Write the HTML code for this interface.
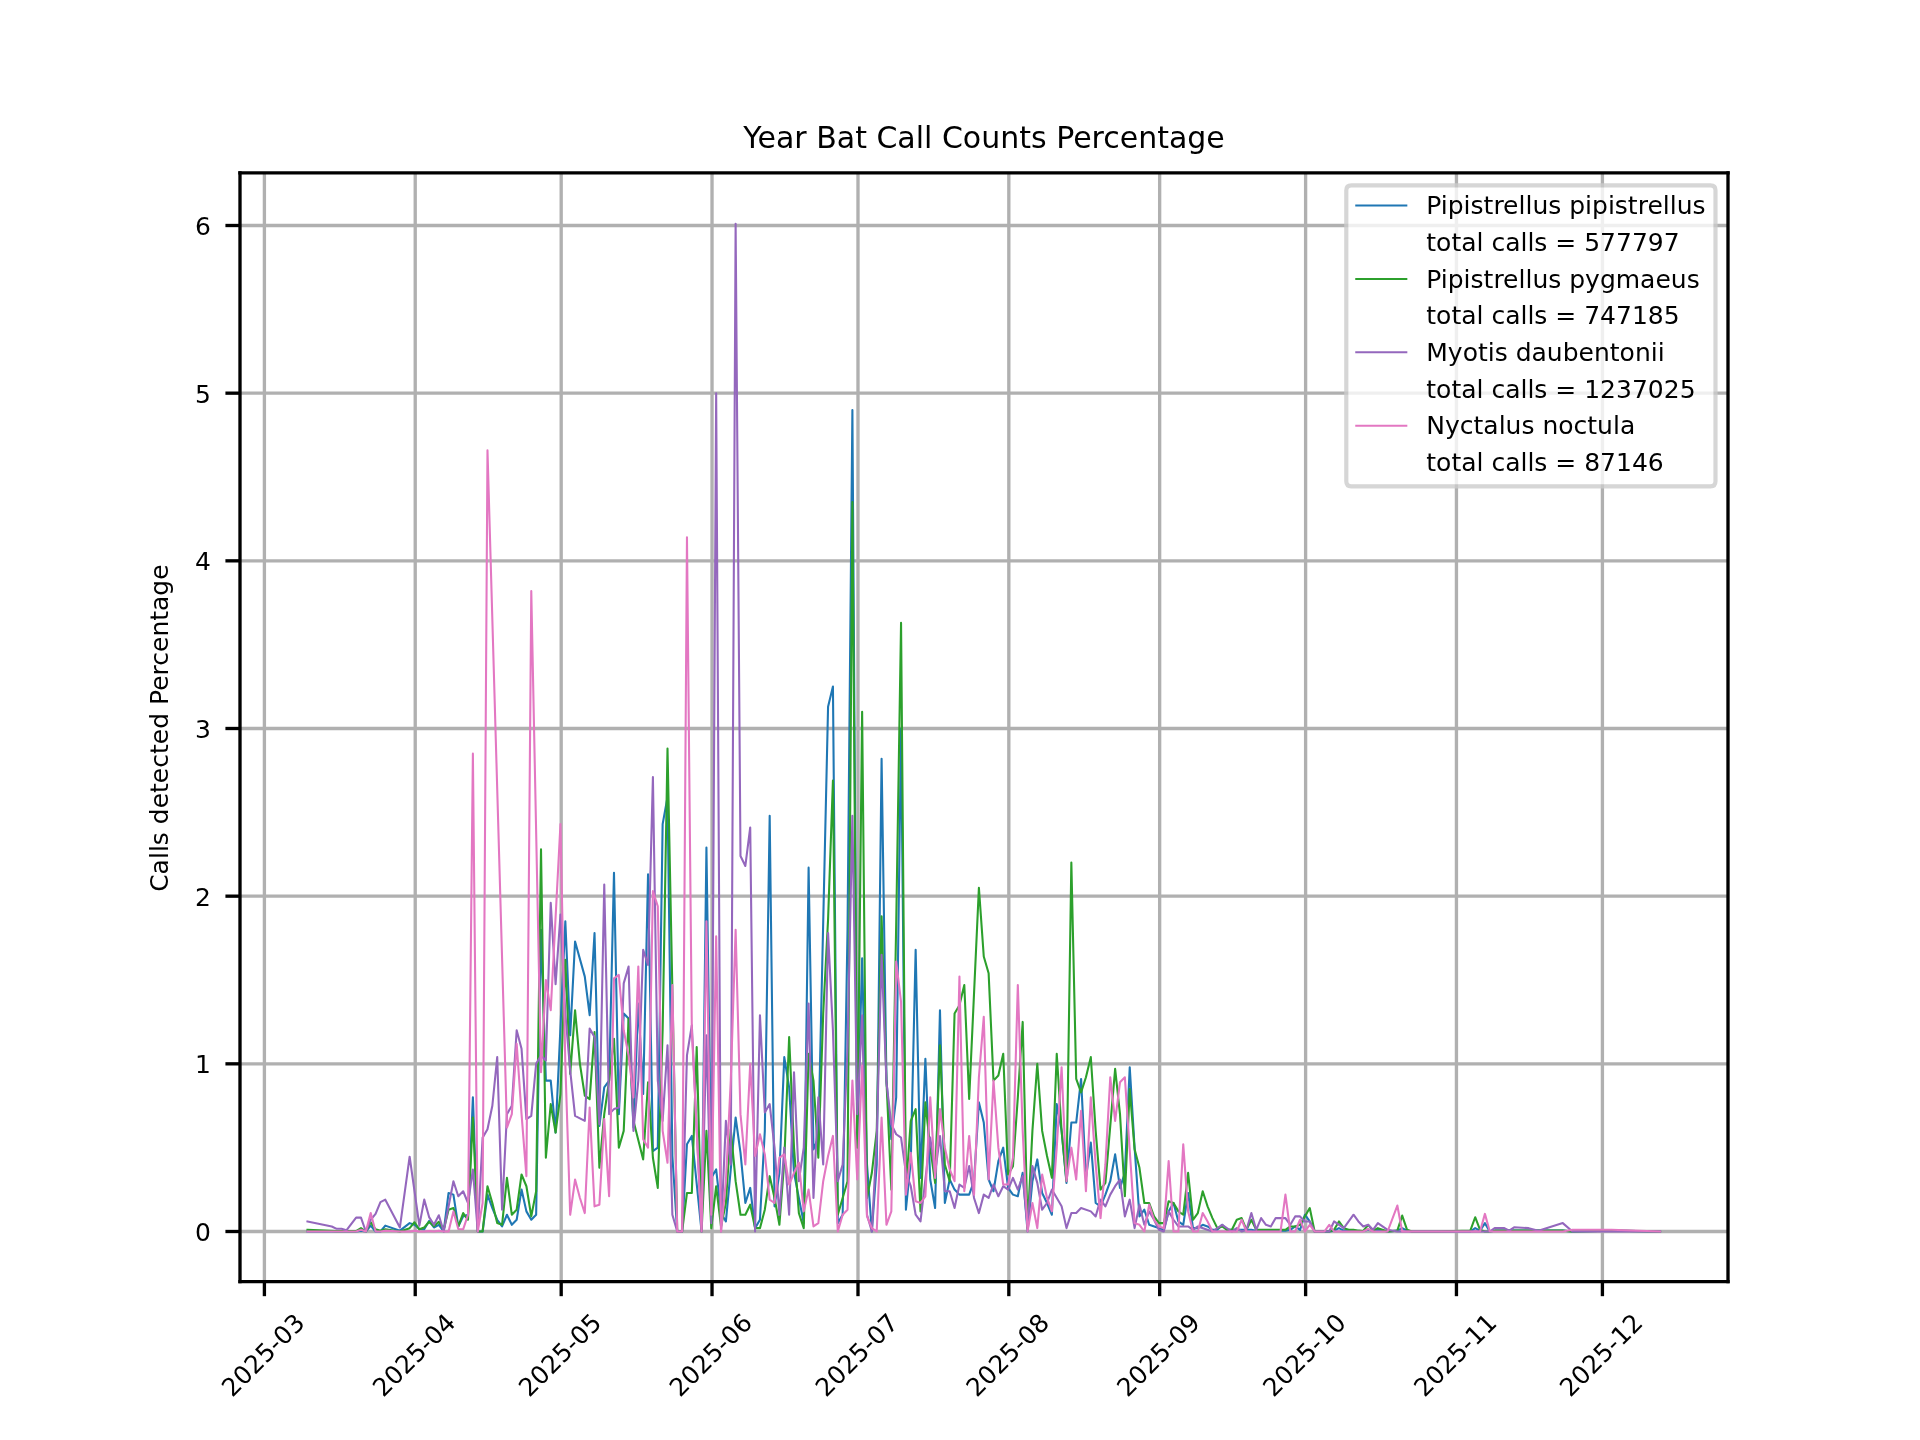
<!DOCTYPE html>
<html><head><meta charset="utf-8"><title>Year Bat Call Counts Percentage</title>
<style>html,body{margin:0;padding:0;background:#fff;width:1920px;height:1440px;overflow:hidden}svg{display:block;will-change:transform}</style>
</head><body>
<svg width="1920" height="1440" viewBox="0 0 460.8 345.6" version="1.1">
 
 <defs>
  <style type="text/css">*{stroke-linejoin: round; stroke-linecap: butt}</style>
 </defs>
 <g id="figure_1">
  <g id="patch_1">
   <path d="M 0 345.6 
L 460.8 345.6 
L 460.8 0 
L 0 0 
z
" style="fill: #ffffff"/>
  </g>
  <g id="axes_1">
   <g id="patch_2">
    <path d="M 57.6 307.584 
L 414.72 307.584 
L 414.72 41.472 
L 57.6 41.472 
z
" style="fill: #ffffff"/>
   </g>
   <g id="matplotlib.axis_1">
    <g id="xtick_1">
     <g id="line2d_1">
      <path d="M 63.456 307.584 
L 63.456 41.472 
" clip-path="url(#p48f33e3976)" style="fill: none; stroke: #b0b0b0; stroke-width: 0.8; stroke-linecap: square"/>
     </g>
     <g id="line2d_2">
      
      <g>
       <path d="M 0 0 L 0 3.5 " transform="translate(63.456 307.584)" style="stroke: #000000; stroke-width: 0.8"/>
      </g>
     </g>
     <g id="text_1">
      <text style="font-size: 6px; font-family: 'DejaVu Sans', 'Liberation Sans', sans-serif" transform="translate(55.763231 335.53469) rotate(-45)">2025-03</text>
     </g>
    </g>
    <g id="xtick_2">
     <g id="line2d_3">
      <path d="M 99.65532 307.584 
L 99.65532 41.472 
" clip-path="url(#p48f33e3976)" style="fill: none; stroke: #b0b0b0; stroke-width: 0.8; stroke-linecap: square"/>
     </g>
     <g id="line2d_4">
      <g>
       <path d="M 0 0 L 0 3.5 " transform="translate(99.65532 307.584)" style="stroke: #000000; stroke-width: 0.8"/>
      </g>
     </g>
     <g id="text_2">
      <text style="font-size: 6px; font-family: 'DejaVu Sans', 'Liberation Sans', sans-serif" transform="translate(91.962551 335.53469) rotate(-45)">2025-04</text>
     </g>
    </g>
    <g id="xtick_3">
     <g id="line2d_5">
      <path d="M 134.68692 307.584 
L 134.68692 41.472 
" clip-path="url(#p48f33e3976)" style="fill: none; stroke: #b0b0b0; stroke-width: 0.8; stroke-linecap: square"/>
     </g>
     <g id="line2d_6">
      <g>
       <path d="M 0 0 L 0 3.5 " transform="translate(134.68692 307.584)" style="stroke: #000000; stroke-width: 0.8"/>
      </g>
     </g>
     <g id="text_3">
      <text style="font-size: 6px; font-family: 'DejaVu Sans', 'Liberation Sans', sans-serif" transform="translate(126.994151 335.53469) rotate(-45)">2025-05</text>
     </g>
    </g>
    <g id="xtick_4">
     <g id="line2d_7">
      <path d="M 170.88624 307.584 
L 170.88624 41.472 
" clip-path="url(#p48f33e3976)" style="fill: none; stroke: #b0b0b0; stroke-width: 0.8; stroke-linecap: square"/>
     </g>
     <g id="line2d_8">
      <g>
       <path d="M 0 0 L 0 3.5 " transform="translate(170.88624 307.584)" style="stroke: #000000; stroke-width: 0.8"/>
      </g>
     </g>
     <g id="text_4">
      <text style="font-size: 6px; font-family: 'DejaVu Sans', 'Liberation Sans', sans-serif" transform="translate(163.193471 335.53469) rotate(-45)">2025-06</text>
     </g>
    </g>
    <g id="xtick_5">
     <g id="line2d_9">
      <path d="M 205.91784 307.584 
L 205.91784 41.472 
" clip-path="url(#p48f33e3976)" style="fill: none; stroke: #b0b0b0; stroke-width: 0.8; stroke-linecap: square"/>
     </g>
     <g id="line2d_10">
      <g>
       <path d="M 0 0 L 0 3.5 " transform="translate(205.91784 307.584)" style="stroke: #000000; stroke-width: 0.8"/>
      </g>
     </g>
     <g id="text_5">
      <text style="font-size: 6px; font-family: 'DejaVu Sans', 'Liberation Sans', sans-serif" transform="translate(198.225071 335.53469) rotate(-45)">2025-07</text>
     </g>
    </g>
    <g id="xtick_6">
     <g id="line2d_11">
      <path d="M 242.11716 307.584 
L 242.11716 41.472 
" clip-path="url(#p48f33e3976)" style="fill: none; stroke: #b0b0b0; stroke-width: 0.8; stroke-linecap: square"/>
     </g>
     <g id="line2d_12">
      <g>
       <path d="M 0 0 L 0 3.5 " transform="translate(242.11716 307.584)" style="stroke: #000000; stroke-width: 0.8"/>
      </g>
     </g>
     <g id="text_6">
      <text style="font-size: 6px; font-family: 'DejaVu Sans', 'Liberation Sans', sans-serif" transform="translate(234.424391 335.53469) rotate(-45)">2025-08</text>
     </g>
    </g>
    <g id="xtick_7">
     <g id="line2d_13">
      <path d="M 278.31648 307.584 
L 278.31648 41.472 
" clip-path="url(#p48f33e3976)" style="fill: none; stroke: #b0b0b0; stroke-width: 0.8; stroke-linecap: square"/>
     </g>
     <g id="line2d_14">
      <g>
       <path d="M 0 0 L 0 3.5 " transform="translate(278.31648 307.584)" style="stroke: #000000; stroke-width: 0.8"/>
      </g>
     </g>
     <g id="text_7">
      <text style="font-size: 6px; font-family: 'DejaVu Sans', 'Liberation Sans', sans-serif" transform="translate(270.623711 335.53469) rotate(-45)">2025-09</text>
     </g>
    </g>
    <g id="xtick_8">
     <g id="line2d_15">
      <path d="M 313.34808 307.584 
L 313.34808 41.472 
" clip-path="url(#p48f33e3976)" style="fill: none; stroke: #b0b0b0; stroke-width: 0.8; stroke-linecap: square"/>
     </g>
     <g id="line2d_16">
      <g>
       <path d="M 0 0 L 0 3.5 " transform="translate(313.34808 307.584)" style="stroke: #000000; stroke-width: 0.8"/>
      </g>
     </g>
     <g id="text_8">
      <text style="font-size: 6px; font-family: 'DejaVu Sans', 'Liberation Sans', sans-serif" transform="translate(305.655311 335.53469) rotate(-45)">2025-10</text>
     </g>
    </g>
    <g id="xtick_9">
     <g id="line2d_17">
      <path d="M 349.5474 307.584 
L 349.5474 41.472 
" clip-path="url(#p48f33e3976)" style="fill: none; stroke: #b0b0b0; stroke-width: 0.8; stroke-linecap: square"/>
     </g>
     <g id="line2d_18">
      <g>
       <path d="M 0 0 L 0 3.5 " transform="translate(349.5474 307.584)" style="stroke: #000000; stroke-width: 0.8"/>
      </g>
     </g>
     <g id="text_9">
      <text style="font-size: 6px; font-family: 'DejaVu Sans', 'Liberation Sans', sans-serif" transform="translate(341.854631 335.53469) rotate(-45)">2025-11</text>
     </g>
    </g>
    <g id="xtick_10">
     <g id="line2d_19">
      <path d="M 384.579 307.584 
L 384.579 41.472 
" clip-path="url(#p48f33e3976)" style="fill: none; stroke: #b0b0b0; stroke-width: 0.8; stroke-linecap: square"/>
     </g>
     <g id="line2d_20">
      <g>
       <path d="M 0 0 L 0 3.5 " transform="translate(384.579 307.584)" style="stroke: #000000; stroke-width: 0.8"/>
      </g>
     </g>
     <g id="text_10">
      <text style="font-size: 6px; font-family: 'DejaVu Sans', 'Liberation Sans', sans-serif" transform="translate(376.886231 335.53469) rotate(-45)">2025-12</text>
     </g>
    </g>
   </g>
   <g id="matplotlib.axis_2">
    <g id="ytick_1">
     <g id="line2d_21">
      <path d="M 57.6 295.56 
L 414.72 295.56 
" clip-path="url(#p48f33e3976)" style="fill: none; stroke: #b0b0b0; stroke-width: 0.8; stroke-linecap: square"/>
     </g>
     <g id="line2d_22">
      
      <g>
       <path d="M 0 0 L -3.5 0 " transform="translate(57.6 295.56)" style="stroke: #000000; stroke-width: 0.8"/>
      </g>
     </g>
     <g id="text_11">
      <text style="font-size: 6px; font-family: 'DejaVu Sans', 'Liberation Sans', sans-serif; text-anchor: end" x="50.6" y="297.839531" transform="rotate(-0 50.6 297.839531)">0</text>
     </g>
    </g>
    <g id="ytick_2">
     <g id="line2d_23">
      <path d="M 57.6 255.32 
L 414.72 255.32 
" clip-path="url(#p48f33e3976)" style="fill: none; stroke: #b0b0b0; stroke-width: 0.8; stroke-linecap: square"/>
     </g>
     <g id="line2d_24">
      <g>
       <path d="M 0 0 L -3.5 0 " transform="translate(57.6 255.32)" style="stroke: #000000; stroke-width: 0.8"/>
      </g>
     </g>
     <g id="text_12">
      <text style="font-size: 6px; font-family: 'DejaVu Sans', 'Liberation Sans', sans-serif; text-anchor: end" x="50.6" y="257.599531" transform="rotate(-0 50.6 257.599531)">1</text>
     </g>
    </g>
    <g id="ytick_3">
     <g id="line2d_25">
      <path d="M 57.6 215.08 
L 414.72 215.08 
" clip-path="url(#p48f33e3976)" style="fill: none; stroke: #b0b0b0; stroke-width: 0.8; stroke-linecap: square"/>
     </g>
     <g id="line2d_26">
      <g>
       <path d="M 0 0 L -3.5 0 " transform="translate(57.6 215.08)" style="stroke: #000000; stroke-width: 0.8"/>
      </g>
     </g>
     <g id="text_13">
      <text style="font-size: 6px; font-family: 'DejaVu Sans', 'Liberation Sans', sans-serif; text-anchor: end" x="50.6" y="217.359531" transform="rotate(-0 50.6 217.359531)">2</text>
     </g>
    </g>
    <g id="ytick_4">
     <g id="line2d_27">
      <path d="M 57.6 174.84 
L 414.72 174.84 
" clip-path="url(#p48f33e3976)" style="fill: none; stroke: #b0b0b0; stroke-width: 0.8; stroke-linecap: square"/>
     </g>
     <g id="line2d_28">
      <g>
       <path d="M 0 0 L -3.5 0 " transform="translate(57.6 174.84)" style="stroke: #000000; stroke-width: 0.8"/>
      </g>
     </g>
     <g id="text_14">
      <text style="font-size: 6px; font-family: 'DejaVu Sans', 'Liberation Sans', sans-serif; text-anchor: end" x="50.6" y="177.119531" transform="rotate(-0 50.6 177.119531)">3</text>
     </g>
    </g>
    <g id="ytick_5">
     <g id="line2d_29">
      <path d="M 57.6 134.6 
L 414.72 134.6 
" clip-path="url(#p48f33e3976)" style="fill: none; stroke: #b0b0b0; stroke-width: 0.8; stroke-linecap: square"/>
     </g>
     <g id="line2d_30">
      <g>
       <path d="M 0 0 L -3.5 0 " transform="translate(57.6 134.6)" style="stroke: #000000; stroke-width: 0.8"/>
      </g>
     </g>
     <g id="text_15">
      <text style="font-size: 6px; font-family: 'DejaVu Sans', 'Liberation Sans', sans-serif; text-anchor: end" x="50.6" y="136.879531" transform="rotate(-0 50.6 136.879531)">4</text>
     </g>
    </g>
    <g id="ytick_6">
     <g id="line2d_31">
      <path d="M 57.6 94.36 
L 414.72 94.36 
" clip-path="url(#p48f33e3976)" style="fill: none; stroke: #b0b0b0; stroke-width: 0.8; stroke-linecap: square"/>
     </g>
     <g id="line2d_32">
      <g>
       <path d="M 0 0 L -3.5 0 " transform="translate(57.6 94.36)" style="stroke: #000000; stroke-width: 0.8"/>
      </g>
     </g>
     <g id="text_16">
      <text style="font-size: 6px; font-family: 'DejaVu Sans', 'Liberation Sans', sans-serif; text-anchor: end" x="50.6" y="96.639531" transform="rotate(-0 50.6 96.639531)">5</text>
     </g>
    </g>
    <g id="ytick_7">
     <g id="line2d_33">
      <path d="M 57.6 54.12 
L 414.72 54.12 
" clip-path="url(#p48f33e3976)" style="fill: none; stroke: #b0b0b0; stroke-width: 0.8; stroke-linecap: square"/>
     </g>
     <g id="line2d_34">
      <g>
       <path d="M 0 0 L -3.5 0 " transform="translate(57.6 54.12)" style="stroke: #000000; stroke-width: 0.8"/>
      </g>
     </g>
     <g id="text_17">
      <text style="font-size: 6px; font-family: 'DejaVu Sans', 'Liberation Sans', sans-serif; text-anchor: end" x="50.6" y="56.399531" transform="rotate(-0 50.6 56.399531)">6</text>
     </g>
    </g>
    <g id="text_18">
     <text style="font-size: 6px; font-family: 'DejaVu Sans', 'Liberation Sans', sans-serif; text-anchor: middle" x="40.382687" y="174.744000" transform="rotate(-90 40.382687 174.744000)">Calls detected Percentage</text>
    </g>
   </g>
   <g id="line2d_35">
    <path d="M 73.790322 295.56 
L 85.467522 295.56 
L 86.635242 295.3588 
L 87.802962 295.56 
L 88.970682 294.1516 
L 90.138402 295.56 
L 91.306122 295.56 
L 92.473842 294.1516 
L 95.977002 295.3588 
L 98.312442 293.548 
L 99.480162 293.9504 
L 100.647882 294.9564 
L 101.815602 295.03688 
L 102.983322 293.02488 
L 104.151042 294.59424 
L 105.318762 293.9504 
L 106.486482 295.56 
L 107.654202 286.3048 
L 108.821922 286.7072 
L 109.989642 294.3528 
L 111.157362 291.9384 
L 112.325082 291.536 
L 113.492802 263.368 
L 114.660522 295.56 
L 115.828242 295.56 
L 116.995962 286.7072 
L 118.163682 289.9264 
L 119.331402 292.7432 
L 120.499122 294.3528 
L 121.666842 291.536 
L 122.834562 293.9504 
L 124.002282 292.7432 
L 125.170002 285.5 
L 126.337722 290.7312 
L 127.505442 292.7432 
L 128.673162 291.536 
L 129.840882 223.128 
L 131.008602 259.344 
L 132.176322 259.344 
L 133.344042 271.8184 
L 135.679482 221.116 
L 136.847202 248.4792 
L 138.014922 225.9448 
L 140.350362 234.3952 
L 141.518082 243.6504 
L 142.685802 223.9328 
L 143.853522 270.2088 
L 145.021242 260.9536 
L 146.188962 259.344 
L 147.356682 209.4464 
L 148.524402 267.392 
L 149.692122 243.248 
L 150.859842 244.4552 
L 152.027562 270.6112 
L 153.195282 240.8336 
L 154.363002 262.5632 
L 155.530722 209.8488 
L 156.698442 276.2448 
L 157.866162 275.44 
L 159.033882 197.7768 
L 160.201602 191.3384 
L 161.369322 277.452 
L 162.537042 295.56 
L 163.704762 295.56 
L 164.872482 274.6352 
L 166.040202 272.6232 
L 168.375642 295.56 
L 169.543362 203.4104 
L 170.711082 282.6832 
L 171.878802 280.6712 
L 173.046522 291.1336 
L 174.214242 293.1456 
L 176.549682 268.1968 
L 177.717402 276.6472 
L 178.885122 288.7192 
L 180.052842 285.0976 
L 181.220562 294.7552 
L 182.388282 292.7432 
L 183.556002 271.416 
L 184.723722 195.7648 
L 185.891442 289.524 
L 187.059162 281.476 
L 188.226882 253.7104 
L 189.394602 260.9536 
L 190.562322 281.476 
L 192.897762 293.548 
L 194.065482 208.2392 
L 195.233202 275.8424 
L 196.400922 273.0256 
L 198.736362 169.6088 
L 199.904082 164.78 
L 201.071802 293.548 
L 202.239522 291.536 
L 203.407242 223.128 
L 204.574962 98.384 
L 205.742682 273.428 
L 206.910402 229.9688 
L 208.078122 279.464 
L 209.245842 295.56 
L 210.413562 279.464 
L 211.581282 182.0832 
L 212.749002 259.344 
L 213.916722 273.428 
L 215.084442 263.368 
L 216.252162 174.84 
L 217.419882 290.3288 
L 218.587602 278.6592 
L 219.755322 227.9568 
L 220.923042 282.6832 
L 222.090762 254.1128 
L 223.258482 283.0856 
L 224.426202 289.9264 
L 225.593922 242.4432 
L 226.761642 288.7192 
L 227.929362 283.0856 
L 229.097082 285.5 
L 230.264802 286.7072 
L 232.600242 286.7072 
L 233.767962 283.488 
L 234.935682 264.5752 
L 236.103402 269.404 
L 237.271122 283.0856 
L 238.438842 285.9024 
L 239.606562 278.6592 
L 240.774282 275.44 
L 241.942002 285.0976 
L 243.109722 286.7072 
L 244.277442 287.1096 
L 245.445162 281.476 
L 246.612882 295.56 
L 247.780602 283.488 
L 248.948322 278.2568 
L 250.116042 286.3048 
L 251.283762 288.7192 
L 252.451482 291.536 
L 253.619202 264.9776 
L 254.786922 271.416 
L 255.954642 283.8904 
L 257.122362 269.404 
L 258.290082 269.404 
L 259.457802 258.9416 
L 260.625522 282.6832 
L 261.793242 274.2328 
L 262.960962 288.7192 
L 264.128682 289.524 
L 265.296402 286.7072 
L 266.464122 283.488 
L 267.631842 277.0496 
L 268.799562 285.0976 
L 269.967282 281.476 
L 271.135002 256.1248 
L 272.302722 275.44 
L 273.470442 291.9384 
L 274.638162 290.3288 
L 275.805882 293.9504 
L 279.309042 295.1576 
L 280.476762 290.7312 
L 281.644482 288.7192 
L 282.812202 293.1456 
L 283.979922 293.9504 
L 285.147642 286.3048 
L 286.315362 294.7552 
L 287.483082 294.7552 
L 288.650802 293.9504 
L 289.818522 294.3528 
L 290.986242 295.1576 
L 292.153962 295.1576 
L 293.321682 293.9504 
L 294.489402 295.1576 
L 300.328002 295.1576 
L 301.495722 295.3588 
L 308.502042 295.3588 
L 309.669762 295.1576 
L 310.837482 294.3528 
L 312.005202 295.1576 
L 313.172922 291.536 
L 314.340642 293.1456 
L 315.508362 295.56 
L 319.011522 295.56 
L 320.179242 295.3588 
L 321.346962 294.7552 
L 322.514682 295.3588 
L 327.185562 295.43928 
L 328.353282 295.1576 
L 329.521002 295.3588 
L 330.688722 295.1576 
L 333.024162 295.56 
L 335.359602 295.3588 
L 336.527322 294.7552 
L 337.695042 295.3588 
L 338.862762 295.56 
L 352.875402 295.56 
L 354.043122 294.7552 
L 355.210842 295.3588 
L 356.378562 293.548 
L 357.546282 295.56 
L 358.714002 295.3588 
L 375.062082 295.3588 
L 377.397522 295.56 
L 386.739282 295.3588 
L 398.416482 295.56 
L 398.416482 295.56 
" clip-path="url(#p48f33e3976)" style="fill: none; stroke: #1f77b4; stroke-width: 0.5; stroke-linecap: square"/>
   </g>
   <g id="line2d_36"/>
   <g id="line2d_37">
    <path d="M 73.790322 295.1576 
L 80.796642 295.47952 
L 85.467522 295.47952 
L 86.635242 294.7552 
L 87.802962 295.56 
L 88.970682 293.3468 
L 90.138402 295.03688 
L 91.306122 295.3588 
L 92.473842 295.03688 
L 95.977002 295.56 
L 98.312442 294.7552 
L 99.480162 293.3468 
L 100.647882 295.03688 
L 101.815602 294.59424 
L 102.983322 293.22608 
L 104.151042 294.27232 
L 105.318762 293.22608 
L 106.486482 295.1576 
L 107.654202 290.3288 
L 108.821922 289.9264 
L 109.989642 294.3528 
L 111.157362 291.1336 
L 112.325082 292.7432 
L 113.492802 268.1968 
L 114.660522 295.56 
L 115.828242 295.56 
L 116.995962 284.6952 
L 118.163682 288.7192 
L 119.331402 293.548 
L 120.499122 293.9504 
L 121.666842 282.6832 
L 122.834562 291.536 
L 124.002282 290.3288 
L 125.170002 281.8784 
L 126.337722 284.6952 
L 127.505442 291.9384 
L 128.673162 285.9024 
L 129.840882 203.8128 
L 131.008602 277.8544 
L 132.176322 264.9776 
L 133.344042 271.8184 
L 134.511762 262.5632 
L 135.679482 230.3712 
L 136.847202 257.7344 
L 138.014922 242.4432 
L 139.182642 255.32 
L 140.350362 262.9656 
L 141.518082 263.7704 
L 142.685802 247.6744 
L 143.853522 280.2688 
L 145.021242 267.392 
L 146.188962 259.344 
L 147.356682 249.284 
L 148.524402 275.44 
L 149.692122 271.416 
L 150.859842 244.4552 
L 152.027562 269.0016 
L 154.363002 278.2568 
L 155.530722 259.7464 
L 156.698442 277.8544 
L 157.866162 285.0976 
L 159.033882 247.272 
L 160.201602 179.6688 
L 162.537042 295.56 
L 163.704762 295.56 
L 164.872482 286.3048 
L 166.040202 286.3048 
L 167.207922 251.296 
L 168.375642 295.56 
L 169.543362 271.416 
L 170.711082 294.7552 
L 171.878802 284.6952 
L 173.046522 294.3528 
L 174.214242 288.7192 
L 175.381962 271.0136 
L 176.549682 283.488 
L 177.717402 291.536 
L 178.885122 291.536 
L 180.052842 289.1216 
L 181.220562 294.7552 
L 182.388282 294.7552 
L 183.556002 290.3288 
L 184.723722 282.2808 
L 185.891442 287.512 
L 187.059162 293.9504 
L 188.226882 278.6592 
L 189.394602 248.8816 
L 190.562322 275.44 
L 191.730042 291.1336 
L 192.897762 294.7552 
L 194.065482 252.9056 
L 195.233202 259.344 
L 196.400922 277.8544 
L 197.568642 243.248 
L 198.736362 220.7136 
L 199.904082 187.3144 
L 201.071802 291.536 
L 203.407242 283.488 
L 204.574962 120.516 
L 205.742682 275.44 
L 206.910402 170.816 
L 208.078122 287.512 
L 209.245842 281.476 
L 210.413562 271.416 
L 211.581282 219.9088 
L 212.749002 259.344 
L 213.916722 285.5 
L 215.084442 221.9208 
L 216.252162 149.4888 
L 217.419882 285.5 
L 218.587602 269.0016 
L 219.755322 266.1848 
L 220.923042 290.7312 
L 222.090762 264.5752 
L 223.258482 275.44 
L 224.426202 283.8904 
L 225.593922 250.8936 
L 226.761642 279.464 
L 227.929362 283.488 
L 229.097082 243.248 
L 230.264802 241.236 
L 231.432522 236.4072 
L 232.600242 263.7704 
L 234.935682 213.068 
L 236.103402 229.5664 
L 237.271122 233.5904 
L 238.438842 259.344 
L 239.606562 258.1368 
L 240.774282 252.9056 
L 241.942002 281.8784 
L 243.109722 279.8664 
L 244.277442 263.368 
L 245.445162 245.26 
L 246.612882 294.7552 
L 247.780602 271.416 
L 248.948322 255.32 
L 250.116042 271.416 
L 251.283762 277.452 
L 252.451482 282.6832 
L 253.619202 252.9056 
L 254.786922 271.416 
L 255.954642 283.488 
L 257.122362 207.032 
L 258.290082 258.9416 
L 259.457802 262.1608 
L 260.625522 258.5392 
L 261.793242 253.7104 
L 262.960962 271.416 
L 264.128682 285.5 
L 265.296402 283.8904 
L 267.631842 256.5272 
L 268.799562 267.392 
L 269.967282 287.1096 
L 271.135002 261.356 
L 272.302722 275.8424 
L 273.470442 280.2688 
L 274.638162 288.7192 
L 275.805882 288.7192 
L 276.973602 291.9384 
L 278.141322 293.548 
L 279.309042 293.548 
L 280.476762 288.3168 
L 281.644482 288.7192 
L 282.812202 290.7312 
L 283.979922 291.536 
L 285.147642 281.476 
L 286.315362 292.7432 
L 287.483082 291.1336 
L 288.650802 285.9024 
L 289.818522 289.524 
L 290.986242 292.3408 
L 292.153962 294.7552 
L 293.321682 294.3528 
L 294.489402 295.1576 
L 295.657122 295.1576 
L 296.824842 292.7432 
L 297.992562 292.3408 
L 299.160282 295.1576 
L 300.328002 292.7432 
L 301.495722 295.1576 
L 308.502042 295.1576 
L 309.669762 294.3528 
L 310.837482 294.3528 
L 312.005202 293.9504 
L 314.340642 289.9264 
L 315.508362 295.56 
L 319.011522 295.56 
L 320.179242 295.1576 
L 321.346962 293.1456 
L 322.514682 294.7552 
L 323.682402 295.1576 
L 324.850122 295.1576 
L 326.017842 295.3588 
L 327.185562 295.43928 
L 328.353282 293.9504 
L 329.521002 295.3588 
L 330.688722 294.7552 
L 333.024162 295.56 
L 335.359602 295.3588 
L 336.527322 291.7372 
L 337.695042 295.1576 
L 338.862762 295.56 
L 344.701362 295.56 
L 352.875402 295.3588 
L 354.043122 292.1396 
L 355.210842 295.1576 
L 356.378562 295.56 
L 357.546282 295.56 
L 358.714002 295.3588 
L 375.062082 295.3588 
L 377.397522 295.56 
L 386.739282 295.3588 
L 398.416482 295.56 
L 398.416482 295.56 
" clip-path="url(#p48f33e3976)" style="fill: none; stroke: #2ca02c; stroke-width: 0.5; stroke-linecap: square"/>
   </g>
   <g id="line2d_38"/>
   <g id="line2d_39">
    <path d="M 73.790322 293.1456 
L 79.628922 294.3528 
L 80.796642 294.91616 
L 81.964362 294.91616 
L 83.132082 295.27832 
L 85.467522 292.22008 
L 86.635242 292.22008 
L 87.802962 295.56 
L 88.970682 292.7432 
L 90.138402 291.3348 
L 91.306122 288.518 
L 92.473842 287.9144 
L 95.977002 294.59424 
L 98.312442 277.61296 
L 100.647882 294.1516 
L 101.815602 287.9144 
L 102.983322 292.09936 
L 104.151042 293.9504 
L 105.318762 291.65672 
L 106.486482 295.56 
L 108.821922 283.488 
L 109.989642 287.1096 
L 111.157362 285.9024 
L 112.325082 288.7192 
L 113.492802 280.6712 
L 114.660522 295.56 
L 115.828242 273.0256 
L 116.995962 271.0136 
L 118.163682 265.38 
L 119.331402 253.7104 
L 120.499122 290.3288 
L 121.666842 267.392 
L 122.834562 265.38 
L 124.002282 247.272 
L 125.170002 251.6984 
L 126.337722 268.5992 
L 127.505442 267.7944 
L 128.673162 255.32 
L 129.840882 253.308 
L 131.008602 254.5152 
L 132.176322 216.6896 
L 133.344042 236.206 
L 134.511762 219.5064 
L 135.679482 243.248 
L 136.847202 256.9296 
L 138.014922 267.7944 
L 140.350362 269.0016 
L 141.518082 246.8696 
L 142.685802 248.8816 
L 143.853522 269.8064 
L 145.021242 212.2632 
L 146.188962 267.392 
L 147.356682 266.1848 
L 148.524402 265.7824 
L 149.692122 236.0048 
L 150.859842 231.9808 
L 152.027562 271.416 
L 153.195282 259.344 
L 154.363002 227.9568 
L 155.530722 231.5784 
L 156.698442 186.5096 
L 157.866162 259.344 
L 159.033882 269.0016 
L 160.201602 250.8936 
L 161.369322 291.536 
L 162.537042 295.56 
L 163.704762 295.56 
L 164.872482 253.308 
L 166.040202 246.0648 
L 168.375642 295.56 
L 169.543362 248.4792 
L 170.711082 293.548 
L 171.878802 94.36 
L 173.046522 295.56 
L 174.214242 269.0016 
L 175.381962 279.464 
L 176.549682 53.7176 
L 177.717402 205.4224 
L 178.885122 207.8368 
L 180.052842 198.5816 
L 181.220562 295.56 
L 182.388282 243.6504 
L 183.556002 266.9896 
L 184.723722 264.9776 
L 185.891442 275.44 
L 187.059162 291.536 
L 188.226882 275.44 
L 189.394602 291.536 
L 190.562322 257.332 
L 191.730042 283.488 
L 192.897762 275.44 
L 194.065482 240.8336 
L 195.233202 287.512 
L 196.400922 263.368 
L 197.568642 279.464 
L 198.736362 223.9328 
L 199.904082 247.272 
L 201.071802 283.488 
L 202.239522 279.464 
L 203.407242 251.296 
L 204.574962 195.7648 
L 205.742682 267.392 
L 206.910402 243.6504 
L 208.078122 291.536 
L 209.245842 295.56 
L 210.413562 273.428 
L 211.581282 229.164 
L 212.749002 259.7464 
L 213.916722 269.8064 
L 215.084442 272.2208 
L 216.252162 273.0256 
L 217.419882 281.476 
L 218.587602 284.6952 
L 219.755322 291.536 
L 220.923042 293.1456 
L 223.258482 273.0256 
L 224.426202 281.476 
L 225.593922 272.6232 
L 226.761642 285.9024 
L 227.929362 285.9024 
L 229.097082 289.9264 
L 230.264802 284.2928 
L 231.432522 285.0976 
L 232.600242 279.8664 
L 233.767962 287.512 
L 234.935682 291.1336 
L 236.103402 286.7072 
L 237.271122 287.512 
L 238.438842 284.2928 
L 239.606562 287.1096 
L 240.774282 284.6952 
L 241.942002 285.5 
L 243.109722 282.6832 
L 244.277442 285.5 
L 245.445162 282.2808 
L 246.612882 294.3528 
L 247.780602 279.8664 
L 248.948322 283.8904 
L 250.116042 290.3288 
L 251.283762 288.7192 
L 252.451482 285.5 
L 254.786922 289.524 
L 255.954642 294.7552 
L 257.122362 291.1336 
L 258.290082 291.1336 
L 259.457802 289.9264 
L 261.793242 290.7312 
L 262.960962 291.9384 
L 264.128682 287.9144 
L 265.296402 289.524 
L 266.464122 286.7072 
L 267.631842 284.6952 
L 268.799562 283.0856 
L 269.967282 291.9384 
L 271.135002 287.9144 
L 272.302722 294.7552 
L 273.470442 289.1216 
L 274.638162 293.9504 
L 275.805882 290.7312 
L 276.973602 292.7432 
L 278.141322 295.1576 
L 279.309042 295.56 
L 280.476762 290.7312 
L 281.644482 292.7432 
L 282.812202 294.3528 
L 285.147642 294.3528 
L 286.315362 295.1576 
L 287.483082 294.3528 
L 290.986242 295.56 
L 293.321682 293.9504 
L 295.657122 295.56 
L 296.824842 294.7552 
L 297.992562 295.56 
L 299.160282 295.1576 
L 300.328002 291.1336 
L 301.495722 295.1576 
L 302.663442 292.3408 
L 303.831162 293.9504 
L 304.998882 294.3528 
L 306.166602 292.3408 
L 308.502042 292.3408 
L 309.669762 293.9504 
L 310.837482 291.9384 
L 312.005202 291.9384 
L 313.172922 293.1456 
L 314.340642 293.1456 
L 315.508362 295.56 
L 319.011522 295.56 
L 320.179242 293.1456 
L 322.514682 294.7552 
L 324.850122 291.536 
L 326.017842 293.1456 
L 327.185562 294.3528 
L 328.353282 293.9504 
L 329.521002 295.1576 
L 330.688722 293.548 
L 333.024162 295.1576 
L 335.359602 295.56 
L 357.546282 295.56 
L 358.714002 294.7552 
L 361.049442 294.7552 
L 362.217162 295.3588 
L 363.384882 294.554 
L 366.888042 294.7552 
L 369.223482 295.3588 
L 375.062082 293.548 
L 377.397522 295.56 
L 398.416482 295.56 
L 398.416482 295.56 
" clip-path="url(#p48f33e3976)" style="fill: none; stroke: #9467bd; stroke-width: 0.5; stroke-linecap: square"/>
   </g>
   <g id="line2d_40"/>
   <g id="line2d_41">
    <path d="M 73.790322 295.56 
L 85.467522 295.56 
L 86.635242 295.1576 
L 87.802962 295.56 
L 88.970682 291.1336 
L 90.138402 295.56 
L 91.306122 295.56 
L 92.473842 295.3588 
L 95.977002 295.56 
L 98.312442 295.56 
L 99.480162 295.3588 
L 100.647882 295.56 
L 101.815602 295.56 
L 102.983322 295.43928 
L 104.151042 295.56 
L 105.318762 295.3588 
L 106.486482 295.56 
L 107.654202 295.56 
L 108.821922 290.7312 
L 109.989642 294.9564 
L 111.157362 295.03688 
L 112.325082 291.536 
L 113.492802 180.876 
L 114.660522 295.56 
L 115.828242 288.7192 
L 116.995962 108.0416 
L 121.666842 270.6112 
L 122.834562 267.392 
L 124.002282 250.4912 
L 125.170002 267.392 
L 126.337722 282.2808 
L 127.505442 141.8432 
L 129.840882 257.332 
L 131.008602 235.2 
L 132.176322 242.4432 
L 134.511762 197.7768 
L 135.679482 255.32 
L 136.847202 291.536 
L 138.014922 283.0856 
L 139.182642 287.512 
L 140.350362 291.1336 
L 141.518082 265.7824 
L 142.685802 289.524 
L 143.853522 289.1216 
L 145.021242 268.5992 
L 146.188962 287.1096 
L 147.356682 234.7976 
L 148.524402 233.9928 
L 149.692122 247.272 
L 150.859842 253.308 
L 152.027562 263.368 
L 153.195282 231.9808 
L 154.363002 273.428 
L 155.530722 275.44 
L 156.698442 213.8728 
L 157.866162 217.4944 
L 159.033882 271.416 
L 160.201602 279.0616 
L 161.369322 236.4072 
L 162.537042 295.56 
L 163.704762 295.56 
L 164.872482 128.9664 
L 166.040202 247.272 
L 168.375642 295.56 
L 169.543362 221.116 
L 170.711082 291.536 
L 171.878802 224.7376 
L 173.046522 295.56 
L 174.214242 283.488 
L 175.381962 259.344 
L 176.549682 223.128 
L 177.717402 267.392 
L 178.885122 279.464 
L 180.052842 255.32 
L 181.220562 277.452 
L 182.388282 272.2208 
L 183.556002 277.0496 
L 184.723722 287.9144 
L 185.891442 288.7192 
L 187.059162 277.8544 
L 188.226882 277.0496 
L 189.394602 284.2928 
L 190.562322 281.476 
L 191.730042 279.0616 
L 192.897762 290.7312 
L 194.065482 285.5 
L 195.233202 294.3528 
L 196.400922 293.548 
L 197.568642 283.488 
L 198.736362 277.452 
L 199.904082 272.6232 
L 201.071802 295.56 
L 202.239522 291.536 
L 203.407242 290.3288 
L 204.574962 259.344 
L 205.742682 283.0856 
L 206.910402 255.7224 
L 208.078122 291.9384 
L 209.245842 294.7552 
L 210.413562 295.56 
L 211.581282 268.1968 
L 212.749002 293.9504 
L 213.916722 290.7312 
L 215.084442 230.7736 
L 216.252162 240.4312 
L 217.419882 286.7072 
L 218.587602 276.6472 
L 219.755322 288.3168 
L 220.923042 288.7192 
L 222.090762 287.1096 
L 223.258482 263.368 
L 224.426202 282.6832 
L 225.593922 266.1848 
L 226.761642 275.44 
L 227.929362 280.6712 
L 229.097082 283.488 
L 230.264802 234.3952 
L 231.432522 285.9024 
L 232.600242 272.6232 
L 233.767962 286.7072 
L 234.935682 258.5392 
L 236.103402 244.0528 
L 237.271122 283.0856 
L 238.438842 259.344 
L 239.606562 275.44 
L 240.774282 284.2928 
L 241.942002 284.2928 
L 243.109722 277.8544 
L 244.277442 236.4072 
L 245.445162 271.416 
L 246.612882 295.56 
L 247.780602 288.7192 
L 248.948322 294.7552 
L 250.116042 281.8784 
L 251.283762 287.512 
L 252.451482 290.7312 
L 253.619202 275.44 
L 254.786922 256.1248 
L 255.954642 283.488 
L 257.122362 275.44 
L 258.290082 283.0856 
L 259.457802 266.5872 
L 260.625522 285.9024 
L 261.793242 263.368 
L 262.960962 279.464 
L 264.128682 292.3408 
L 265.296402 279.464 
L 266.464122 258.5392 
L 267.631842 269.0016 
L 268.799562 259.7464 
L 269.967282 258.5392 
L 272.302722 293.548 
L 273.470442 293.9504 
L 274.638162 295.56 
L 275.805882 289.1216 
L 276.973602 292.7432 
L 278.141322 294.3528 
L 279.309042 294.7552 
L 280.476762 278.6592 
L 281.644482 295.56 
L 282.812202 295.56 
L 283.979922 274.6352 
L 285.147642 290.7312 
L 286.315362 295.56 
L 287.483082 295.56 
L 288.650802 291.1336 
L 289.818522 293.1456 
L 290.986242 295.56 
L 296.824842 295.56 
L 297.992562 292.7432 
L 299.160282 295.56 
L 307.334322 295.56 
L 308.502042 286.7072 
L 309.669762 295.56 
L 310.837482 295.56 
L 312.005202 292.7432 
L 313.172922 295.56 
L 314.340642 293.9504 
L 315.508362 295.56 
L 317.843802 295.56 
L 319.011522 293.9504 
L 320.179242 295.56 
L 327.185562 295.56 
L 328.353282 294.9564 
L 329.521002 295.56 
L 333.024162 295.56 
L 335.359602 289.3228 
L 336.527322 295.56 
L 355.210842 295.56 
L 356.378562 291.3348 
L 357.546282 295.56 
L 375.062082 295.56 
L 377.397522 295.1576 
L 386.739282 295.1576 
L 398.416482 295.56 
L 398.416482 295.56 
" clip-path="url(#p48f33e3976)" style="fill: none; stroke: #e377c2; stroke-width: 0.5; stroke-linecap: square"/>
   </g>
   <g id="line2d_42"/>
   <g id="patch_3">
    <path d="M 57.6 307.584 
L 57.6 41.472 
" style="fill: none; stroke: #000000; stroke-width: 0.8; stroke-linejoin: miter; stroke-linecap: square"/>
   </g>
   <g id="patch_4">
    <path d="M 414.72 307.584 
L 414.72 41.472 
" style="fill: none; stroke: #000000; stroke-width: 0.8; stroke-linejoin: miter; stroke-linecap: square"/>
   </g>
   <g id="patch_5">
    <path d="M 57.6 307.584 
L 414.72 307.584 
" style="fill: none; stroke: #000000; stroke-width: 0.8; stroke-linejoin: miter; stroke-linecap: square"/>
   </g>
   <g id="patch_6">
    <path d="M 57.6 41.472 
L 414.72 41.472 
" style="fill: none; stroke: #000000; stroke-width: 0.8; stroke-linejoin: miter; stroke-linecap: square"/>
   </g>
   <g id="text_19">
    <text style="font-size: 7.2px; font-family: 'DejaVu Sans', 'Liberation Sans', sans-serif; text-anchor: middle" x="236.16" y="35.472" transform="rotate(-0 236.16 35.472)">Year Bat Call Counts Percentage</text>
   </g>
   <g id="legend_1">
    <g id="patch_7">
     <path d="M 324.309375 116.727 
L 410.52 116.727 
Q 411.72 116.727 411.72 115.527 
L 411.72 45.672 
Q 411.72 44.472 410.52 44.472 
L 324.309375 44.472 
Q 323.109375 44.472 323.109375 45.672 
L 323.109375 115.527 
Q 323.109375 116.727 324.309375 116.727 
z
" style="fill: #ffffff; opacity: 0.8; stroke: #cccccc; stroke-linejoin: miter"/>
    </g>
    <g id="line2d_43">
     <path d="M 325.509375 49.331062 
L 331.509375 49.331062 
L 337.509375 49.331062 
" style="fill: none; stroke: #1f77b4; stroke-width: 0.5; stroke-linecap: square"/>
    </g>
    <g id="text_20">
     <text style="font-size: 6px; font-family: 'DejaVu Sans', 'Liberation Sans', sans-serif; text-anchor: start" x="342.309375" y="51.431062" transform="rotate(-0 342.309375 51.431062)">Pipistrellus pipistrellus</text>
    </g>
    <g id="line2d_44"/>
    <g id="text_21">
     <text style="font-size: 6px; font-family: 'DejaVu Sans', 'Liberation Sans', sans-serif; text-anchor: start" x="342.309375" y="60.237937" transform="rotate(-0 342.309375 60.237937)">total calls = 577797</text>
    </g>
    <g id="line2d_45">
     <path d="M 325.509375 66.944812 
L 331.509375 66.944812 
L 337.509375 66.944812 
" style="fill: none; stroke: #2ca02c; stroke-width: 0.5; stroke-linecap: square"/>
    </g>
    <g id="text_22">
     <text style="font-size: 6px; font-family: 'DejaVu Sans', 'Liberation Sans', sans-serif; text-anchor: start" x="342.309375" y="69.044812" transform="rotate(-0 342.309375 69.044812)">Pipistrellus pygmaeus</text>
    </g>
    <g id="line2d_46"/>
    <g id="text_23">
     <text style="font-size: 6px; font-family: 'DejaVu Sans', 'Liberation Sans', sans-serif; text-anchor: start" x="342.309375" y="77.851687" transform="rotate(-0 342.309375 77.851687)">total calls = 747185</text>
    </g>
    <g id="line2d_47">
     <path d="M 325.509375 84.558563 
L 331.509375 84.558563 
L 337.509375 84.558563 
" style="fill: none; stroke: #9467bd; stroke-width: 0.5; stroke-linecap: square"/>
    </g>
    <g id="text_24">
     <text style="font-size: 6px; font-family: 'DejaVu Sans', 'Liberation Sans', sans-serif; text-anchor: start" x="342.309375" y="86.658563" transform="rotate(-0 342.309375 86.658563)">Myotis daubentonii</text>
    </g>
    <g id="line2d_48"/>
    <g id="text_25">
     <text style="font-size: 6px; font-family: 'DejaVu Sans', 'Liberation Sans', sans-serif; text-anchor: start" x="342.309375" y="95.465438" transform="rotate(-0 342.309375 95.465438)">total calls = 1237025</text>
    </g>
    <g id="line2d_49">
     <path d="M 325.509375 102.172313 
L 331.509375 102.172313 
L 337.509375 102.172313 
" style="fill: none; stroke: #e377c2; stroke-width: 0.5; stroke-linecap: square"/>
    </g>
    <g id="text_26">
     <text style="font-size: 6px; font-family: 'DejaVu Sans', 'Liberation Sans', sans-serif; text-anchor: start" x="342.309375" y="104.272312" transform="rotate(-0 342.309375 104.272312)">Nyctalus noctula</text>
    </g>
    <g id="line2d_50"/>
    <g id="text_27">
     <text style="font-size: 6px; font-family: 'DejaVu Sans', 'Liberation Sans', sans-serif; text-anchor: start" x="342.309375" y="113.079187" transform="rotate(-0 342.309375 113.079187)">total calls = 87146</text>
    </g>
   </g>
  </g>
 </g>
 <defs>
  <clipPath id="p48f33e3976">
   <rect x="57.6" y="41.472" width="357.12" height="266.112"/>
  </clipPath>
 </defs>
</svg>

</body></html>
